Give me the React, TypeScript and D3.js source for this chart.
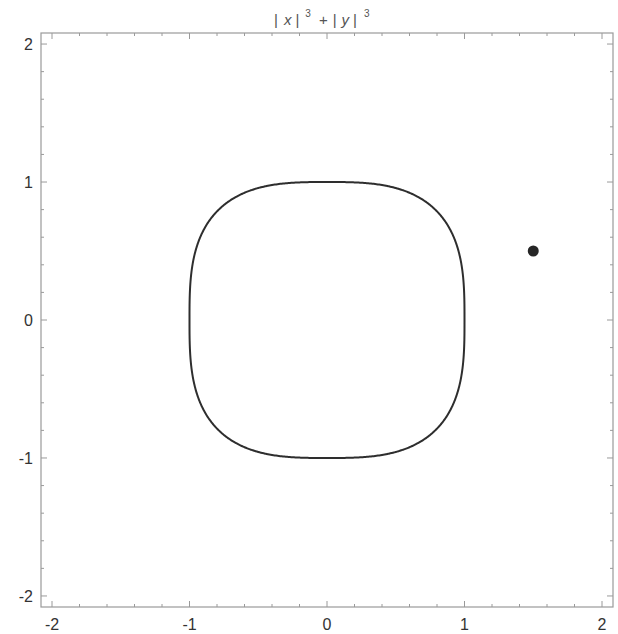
import React, { useEffect, useRef } from "react";
import * as d3 from "d3";

// plot definition
const levels = [1];
const exponents = [3, 3];
const points = [[1.5, 0.5]];
const majorTicks = [-2, -1, 0, 1, 2];
const minorTicks = d3.range(-2, 2.001, 0.2).map((d) => Math.round(d * 10) / 10);
const plotRange = [-2.08, 2.08];

const App = () => {
  const ref = useRef<SVGSVGElement>(null);

  useEffect(() => {
    const svg = d3.select(ref.current);
    svg.selectAll("*").remove();

    const width = 618;
    const height = 634;
    const frame = { left: 41, top: 33, right: 613, bottom: 607 };

    const x = d3.scaleLinear().domain(plotRange).range([frame.left, frame.right]);
    const y = d3.scaleLinear().domain(plotRange).range([frame.bottom, frame.top]);

    svg.attr("width", width).attr("height", height);
    svg.append("rect").attr("width", width).attr("height", height).attr("fill", "white");

    const g = svg.append("g");

    // frame
    g.append("rect")
      .attr("x", frame.left)
      .attr("y", frame.top)
      .attr("width", frame.right - frame.left)
      .attr("height", frame.bottom - frame.top)
      .attr("fill", "none")
      .attr("stroke", "#9a9a9a")
      .attr("stroke-width", 1.2);

    const tickColor = "#9a9a9a";
    const drawTicks = (vals, len) => {
      vals.forEach((v) => {
        // bottom + top
        g.append("line").attr("x1", x(v)).attr("x2", x(v))
          .attr("y1", frame.bottom).attr("y2", frame.bottom - len)
          .attr("stroke", tickColor);
        g.append("line").attr("x1", x(v)).attr("x2", x(v))
          .attr("y1", frame.top).attr("y2", frame.top + len)
          .attr("stroke", tickColor);
        // left + right
        g.append("line").attr("y1", y(v)).attr("y2", y(v))
          .attr("x1", frame.left).attr("x2", frame.left + len)
          .attr("stroke", tickColor);
        g.append("line").attr("y1", y(v)).attr("y2", y(v))
          .attr("x1", frame.right).attr("x2", frame.right - len)
          .attr("stroke", tickColor);
      });
    };
    drawTicks(minorTicks.filter((d) => !majorTicks.includes(d)), 3);
    drawTicks(majorTicks, 6);

    const fmt = (d) => (d < 0 ? "-" + Math.abs(d) : String(d));
    const font = "Liberation Sans, Arial, sans-serif";

    g.selectAll(".xl").data(majorTicks).enter().append("text")
      .attr("x", (d) => x(d))
      .attr("y", 630)
      .attr("text-anchor", "middle")
      .attr("font-family", font)
      .attr("font-size", 16)
      .attr("fill", "#333")
      .text(fmt);

    g.selectAll(".yl").data(majorTicks).enter().append("text")
      .attr("x", 33)
      .attr("y", (d) => y(d) + 6)
      .attr("text-anchor", "end")
      .attr("font-family", font)
      .attr("font-size", 16)
      .attr("fill", "#333")
      .text(fmt);

    // title: | x |^3 + | y |^3
    const title = g.append("text")
      .attr("x", 274)
      .attr("y", 25)
      .attr("font-family", font)
      .attr("font-size", 15)
      .attr("fill", "#555");
    title.append("tspan").text("|");
    title.append("tspan").attr("dx", 6).attr("font-style", "italic").text("x");
    title.append("tspan").attr("dx", 4).text("|");
    title.append("tspan").attr("dx", 6).attr("dy", -8).attr("font-size", 10).text(exponents[0]);
    title.append("tspan").attr("dx", 8).attr("dy", 8).text("+");
    title.append("tspan").attr("dx", 5).text("|");
    title.append("tspan").attr("dx", 5).attr("font-style", "italic").text("y");
    title.append("tspan").attr("dx", 4).text("|");
    title.append("tspan").attr("dx", 7).attr("dy", -8).attr("font-size", 10).text(exponents[1]);

    // contour of |x|^a + |y|^b = level (negated so the region is the interior)
    const n = 321;
    const lo = -1.6;
    const step = 0.01;
    const values = new Array(n * n);
    for (let j = 0; j < n; j++) {
      for (let i = 0; i < n; i++) {
        const px = lo + i * step;
        const py = lo + j * step;
        values[j * n + i] = -(Math.pow(Math.abs(px), exponents[0]) + Math.pow(Math.abs(py), exponents[1]));
      }
    }
    const contours = d3.contours().size([n, n]).thresholds(levels.map((l) => -l))(values);
    const gx = (v) => x(lo + (v - 0.5) * step);
    const gy = (v) => y(lo + (v - 0.5) * step);
    const path = d3.geoPath(
      d3.geoTransform({
        point(px, py) {
          this.stream.point(gx(px), gy(py));
        },
      })
    );
    g.selectAll(".contour").data(contours).enter().append("path")
      .attr("d", path)
      .attr("fill", "none")
      .attr("stroke", "#2e2e2e")
      .attr("stroke-width", 2);

    // point
    g.selectAll(".pt").data(points).enter().append("circle")
      .attr("cx", (d) => x(d[0]))
      .attr("cy", (d) => y(d[1]))
      .attr("r", 5.5)
      .attr("fill", "#262626");
  }, []);

  return <svg ref={ref} style={{ position: "absolute", left: 0, top: 0 }} />;
};

export default App;
